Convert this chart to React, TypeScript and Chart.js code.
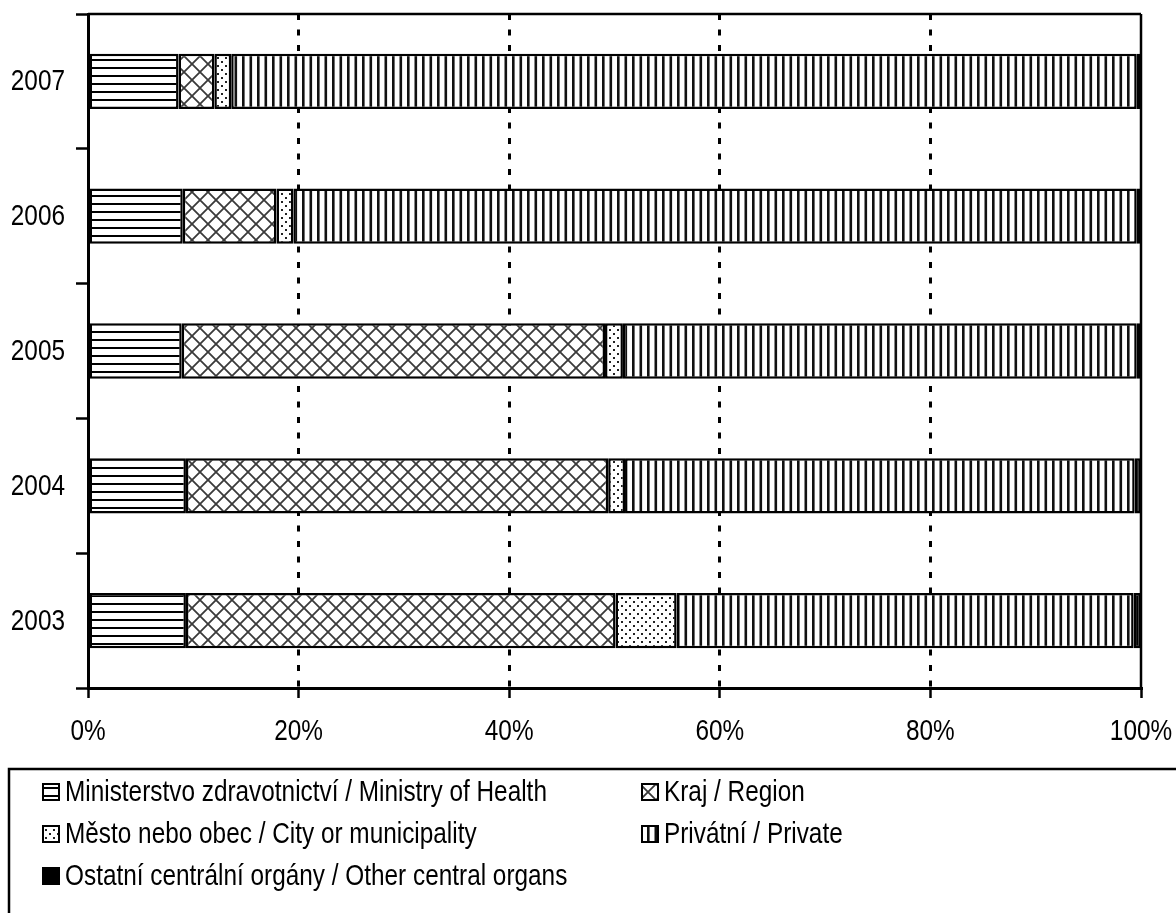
import React, { useEffect, useRef } from "react";
import { Chart, registerables } from "chart.js";
Chart.register(...registerables);

const years = ["2007", "2006", "2005", "2004", "2003"];
const ministryOfHealth = [8.6, 9.0, 8.9, 9.3, 9.3];
const region = [3.4, 8.9, 40.2, 40.1, 40.8];
const city = [1.6, 1.6, 1.7, 1.6, 5.8];
const privateOwned = [86.0, 80.1, 48.8, 48.4, 43.4];
const otherCentral = [0.4, 0.4, 0.4, 0.6, 0.7];
const xTicks = [0, 20, 40, 60, 80, 100];

const seriesLabels = [
  "Ministerstvo zdravotnictví / Ministry of Health",
  "Kraj / Region",
  "Město nebo obec / City or municipality",
  "Privátní / Private",
  "Ostatní centrální orgány / Other central organs",
];

const FONT = "'Liberation Sans', Arial, sans-serif";
const NARROW = 0.84;

function makePattern(kind: string): CanvasPattern | string {
  if (kind === "solid") return "#000";
  const c = document.createElement("canvas");
  const g = c.getContext("2d")!;
  if (kind === "h") {
    c.width = 8; c.height = 8;
    g.fillStyle = "#fff"; g.fillRect(0, 0, 8, 8);
    g.fillStyle = "#000"; g.fillRect(0, 3, 8, 2);
  } else if (kind === "x") {
    c.width = 16; c.height = 16;
    g.fillStyle = "#fff"; g.fillRect(0, 0, 16, 16);
    g.strokeStyle = "#3a3a3a"; g.lineWidth = 1.8;
    g.beginPath();
    g.moveTo(-2, -2); g.lineTo(18, 18);
    g.moveTo(18, -2); g.lineTo(-2, 18);
    g.stroke();
  } else if (kind === "d") {
    c.width = 8; c.height = 8;
    g.fillStyle = "#fff"; g.fillRect(0, 0, 8, 8);
    g.fillStyle = "#222";
    g.fillRect(1, 1, 2, 2);
    g.fillRect(5, 5, 2, 2);
  } else if (kind === "v") {
    c.width = 15; c.height = 8;
    g.fillStyle = "#fff"; g.fillRect(0, 0, 15, 8);
    g.fillStyle = "#111";
    g.fillRect(2, 0, 2.6, 8);
    g.fillRect(9.5, 0, 2.6, 8);
  }
  return g.createPattern(c, "repeat")!;
}

function narrowText(ctx: CanvasRenderingContext2D, text: string, x: number, y: number, align: CanvasTextAlign) {
  ctx.save();
  ctx.translate(x, y);
  ctx.scale(NARROW, 1);
  ctx.textAlign = align;
  ctx.fillText(text, 0, 0);
  ctx.restore();
}

export default function App() {
  const ref = useRef<HTMLCanvasElement>(null);
  useEffect(() => {
    document.body.style.margin = "0";
    const canvas = ref.current!;
    const fills = [makePattern("h"), makePattern("x"), makePattern("d"), makePattern("v"), makePattern("solid")];
    const seriesData = [ministryOfHealth, region, city, privateOwned, otherCentral];

    const framePlugin = {
      id: "frame",
      afterDatasetsDraw(chart: any) {
        const { ctx, chartArea } = chart;
        ctx.save();
        ctx.strokeStyle = "#000";
        ctx.lineWidth = 2.5;
        ctx.beginPath();
        ctx.moveTo(chartArea.left, chartArea.top);
        ctx.lineTo(chartArea.right, chartArea.top);
        ctx.moveTo(chartArea.right, chartArea.top);
        ctx.lineTo(chartArea.right, chartArea.bottom);
        ctx.stroke();
        ctx.restore();
      },
      afterDraw(chart: any) {
        const { ctx } = chart;
        const xs = chart.scales.x;
        const ys = chart.scales.y;
        ctx.save();
        ctx.fillStyle = "#000";
        ctx.textBaseline = "middle";
        ctx.font = `29px ${FONT}`;
        xTicks.forEach((v) => {
          narrowText(ctx, v + "%", xs.getPixelForValue(v), chart.chartArea.bottom + 44, "center");
        });
        years.forEach((lab, i) => {
          narrowText(ctx, lab, ys.left + 65, ys.getPixelForValue(i) + 1, "right");
        });
        ctx.strokeStyle = "#000";
        ctx.lineWidth = 2.5;
        ctx.strokeRect(9, 769, 1200, 200);
        const pos = [
          [42, 792], [641, 792], [42, 834], [641, 834], [42, 876],
        ];
        pos.forEach(([x, y], si) => {
          ctx.fillStyle = fills[si] as any;
          ctx.fillRect(x, y - 9, 18, 18);
          ctx.strokeStyle = "#000";
          ctx.lineWidth = 2;
          ctx.strokeRect(x + 1, y - 8, 16, 16);
          ctx.fillStyle = "#000";
          ctx.font = `29px ${FONT}`;
          narrowText(ctx, seriesLabels[si], x + 23, y + 1, "left");
        });
        ctx.restore();
      },
    };

    const chart = new Chart(canvas, {
      type: "bar",
      data: {
        labels: years,
        datasets: seriesData.map((d, i) => ({
          label: seriesLabels[i],
          data: d,
          backgroundColor: fills[i] as any,
          borderColor: "#000",
          borderWidth: 2.5,
          borderSkipped: false,
          categoryPercentage: 1,
          barPercentage: 0.41,
        })),
      },
      options: {
        indexAxis: "y",
        animation: false,
        responsive: false,
        layout: { padding: { top: 14, right: 35, bottom: 175, left: 0 } },
        plugins: { legend: { display: false }, tooltip: { enabled: false } },
        scales: {
          x: {
            stacked: true,
            min: 0,
            max: 100,
            afterFit: (s: any) => { s.height = 50; },
            afterBuildTicks: (s: any) => { s.ticks = xTicks.map((v) => ({ value: v })); },
            ticks: { display: false },
            grid: {
              color: (c: any) => (c.tick && (c.tick.value === 0 || c.tick.value === 100) ? "transparent" : "#000"),
              lineWidth: 3,
              tickColor: "#000",
              tickLength: 10,
              tickWidth: 2.5,
            },
            border: { display: true, color: "#000", width: 3, dash: [6, 9.5] },
          },
          y: {
            stacked: true,
            offset: true,
            afterFit: (s: any) => { s.width = 88; },
            ticks: { display: false },
            grid: {
              offset: true,
              drawOnChartArea: false,
              tickColor: "#000",
              tickLength: 12,
              tickWidth: 2.5,
            },
            border: { display: true, color: "#000", width: 3 },
          },
        },
      },
      plugins: [framePlugin],
    } as any);
    return () => chart.destroy();
  }, []);
  return (
    <div style={{ width: 1176, height: 913 }}>
      <canvas ref={ref} width={1176} height={913} style={{ display: "block" }} />
    </div>
  );
}
